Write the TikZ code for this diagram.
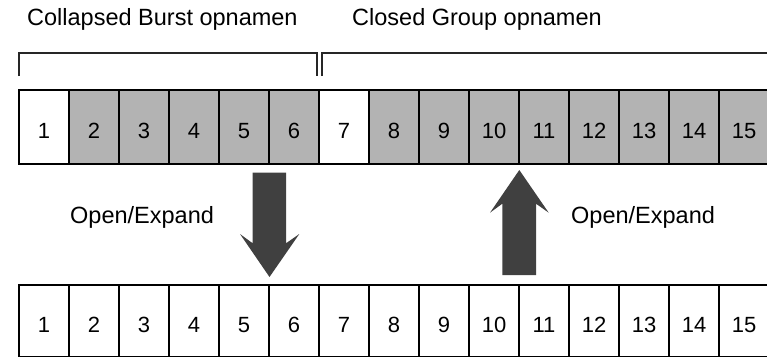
\documentclass[tikz,border=0pt]{standalone}
\usepackage{fontspec}
\setmainfont{Liberation Sans}
\definecolor{cellgray}{HTML}{B3B3B3}
\definecolor{arrowgray}{HTML}{404040}
\definecolor{bracketgray}{HTML}{262626}
\begin{document}
\begin{tikzpicture}[x=1pt,y=-1pt,
  cellbox/.style={draw=black, line width=2pt, minimum width=50pt, inner sep=0pt,
    text height=23.5pt, text depth=0pt, font=\fontsize{22}{22}\selectfont},
  toprow/.style={cellbox, minimum height=74pt},
  botrow/.style={cellbox, minimum height=72pt, fill=white},
  shaded/.style={fill=cellgray},
  plain/.style={fill=white},
  label/.style={anchor=base west, inner sep=0pt, font=\fontsize{23.5}{23.5}\selectfont},
  bracket/.style={draw=bracketgray, line width=1.3pt},
  blockarrow/.style={fill=arrowgray, draw=none}]
\useasboundingbox (0,0) rectangle (767,356);
\clip (0,0) rectangle (767,356);
% titles
\node[label] (tl) at (27,25) {Collapsed Burst opnamen};
\node[label] (tr) at (352,25) {Closed Group opnamen};
% brackets
\coordinate (b1a) at (19,76);
\coordinate (b1b) at (19,53);
\coordinate (b1c) at (317,53);
\coordinate (b1d) at (317,76);
\draw[bracket] (b1a) -- (b1b) -- (b1c) -- (b1d);
\coordinate (b2a) at (322,76);
\coordinate (b2b) at (322,53);
\coordinate (b2c) at (790,53);
\draw[bracket] (b2a) -- (b2b) -- (b2c);
% top row
\foreach \i in {1,...,15}{
  \pgfmathtruncatemacro{\cx}{44+50*(\i-1)}
  \ifnum\i=1 \def\st{plain}\else\ifnum\i=7 \def\st{plain}\else\def\st{shaded}\fi\fi
  \node[toprow,\st] (t\i) at (\cx,127) {\i};
}
% bottom row
\foreach \i in {1,...,15}{
  \pgfmathtruncatemacro{\cx}{44+50*(\i-1)}
  \node[botrow] (b\i) at (\cx,321) {\i};
}
% down arrow
\fill[blockarrow] (252.7,172.7) -- (286,172.7) -- (286,243.3) -- (299.3,234)
  -- (269.5,277) -- (240,234) -- (252.7,243.3) -- cycle;
% up arrow
\fill[blockarrow] (502.3,275) -- (536,275) -- (536,203.7) -- (548.7,212.7)
  -- (519.3,170) -- (490,212.7) -- (502.3,203.7) -- cycle;
% labels
\node[label] (ol) at (70,223) {Open/Expand};
\node[label] (or) at (571,223) {Open/Expand};
\end{tikzpicture}
\end{document}
